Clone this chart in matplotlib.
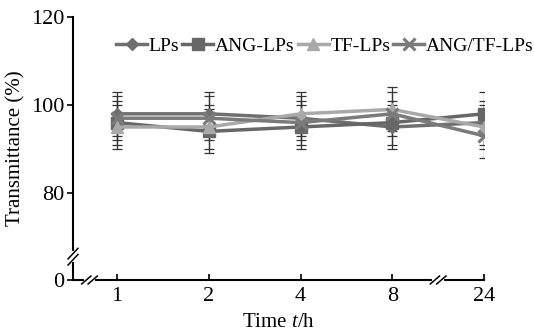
import matplotlib.pyplot as plt
import numpy as np

plt.rcParams['font.family'] = ['Liberation Serif', 'DejaVu Serif']
plt.rcParams['mathtext.fontset'] = 'custom'
plt.rcParams['mathtext.it'] = 'Liberation Serif:italic'
plt.rcParams['mathtext.rm'] = 'Liberation Serif'

# -----------------------
# DATA
# -----------------------
time_labels = ["1", "2", "4", "8", "24"]
series_names = ["LPs", "ANG-LPs", "TF-LPs", "ANG/TF-LPs"]

lps = [98, 98, 97, 95, 96]
ang_lps = [96, 94, 95, 96, 98]
tf_lps = [95, 95, 98, 99, 95]
angtf_lps = [97, 97, 96, 98, 93]

lps_err = [5, 5, 5, 5, 5]
ang_lps_err = [5, 5, 5, 5, 5]
tf_lps_err = [5, 5, 5, 5, 5]
angtf_lps_err = [5, 5, 5, 5, 5]

y_ticks = [80, 100, 120]

# -----------------------
# PLOT
# -----------------------
fig = plt.figure(figsize=(5.34, 3.35), dpi=100)
ax = fig.add_axes([0.1367, 0.1642, 0.7697, 0.7848])

x = np.arange(len(time_labels))

styles = [
    (lps, lps_err, "#6f6f6f", "D", 6, 1),
    (ang_lps, ang_lps_err, "#676767", "s", 8, 1),
    (tf_lps, tf_lps_err, "#a9a9a9", "^", 8, 1),
    (angtf_lps, angtf_lps_err, "#7a7a7a", "x", 9, 2.2),
]

for (vals, err, col, mk, ms, mew), name in zip(styles, series_names):
    ax.errorbar(x, vals, yerr=err, fmt="none", ecolor="#333333",
                elinewidth=0.9, capsize=3.5, capthick=0.9, zorder=1)
    ax.plot(x, vals, color=col, marker=mk, markersize=ms, markeredgewidth=mew,
            linewidth=2.5, label=name, zorder=2)

# the bottom of the axis stands for 0 (broken axis)
y_bottom = 60.2
ax.set_ylim(y_bottom, 120)
ax.set_xlim(-0.48, 4)
ax.set_yticks([y_bottom] + y_ticks)
ax.set_yticklabels(["0"] + [str(v) for v in y_ticks], fontsize=16)
ax.set_xticks(x)
ax.set_xticklabels(time_labels, fontsize=16)
ax.tick_params(axis="y", direction="out", length=4, width=1.2, pad=2)
ax.tick_params(axis="x", direction="in", length=4, width=1.2, pad=5)

ax.spines["top"].set_visible(False)
ax.spines["right"].set_visible(False)
ax.spines["left"].set_linewidth(1.5)
ax.spines["bottom"].set_linewidth(1.5)

# break marks
trans_y = ax.get_yaxis_transform()
trans_x = ax.get_xaxis_transform()
yb = 65.5
ax.plot([0, 0], [yb - 0.8, yb + 0.8], transform=trans_y, color="white",
        linewidth=3, clip_on=False, zorder=5)
for d in (-0.7, 0.7):
    ax.plot([-0.012, 0.012], [yb + d - 1.2, yb + d + 1.2], transform=trans_y,
            color="black", linewidth=1.1, clip_on=False, zorder=6)
for xb in (-0.3, 3.5):
    ax.plot([xb - 0.04, xb + 0.04], [0, 0], transform=trans_x, color="white",
            linewidth=3, clip_on=False, zorder=5)
    for d in (-0.035, 0.035):
        ax.plot([xb + d - 0.05, xb + d + 0.05], [-0.015, 0.015], transform=trans_x,
                color="black", linewidth=1.1, clip_on=False, zorder=6)

ax.set_ylabel("Transmittance (%)", fontsize=15, labelpad=4)
ax.set_xlabel("Time $t$/h", fontsize=15, labelpad=5)

ax.legend(loc="center left", bbox_to_anchor=(0.105, 0.89), ncol=4, frameon=False,
          fontsize=14, handlelength=1.6, handletextpad=0.08, columnspacing=0.15,
          borderaxespad=0, borderpad=0)

fig.savefig("out.png", dpi=100)
